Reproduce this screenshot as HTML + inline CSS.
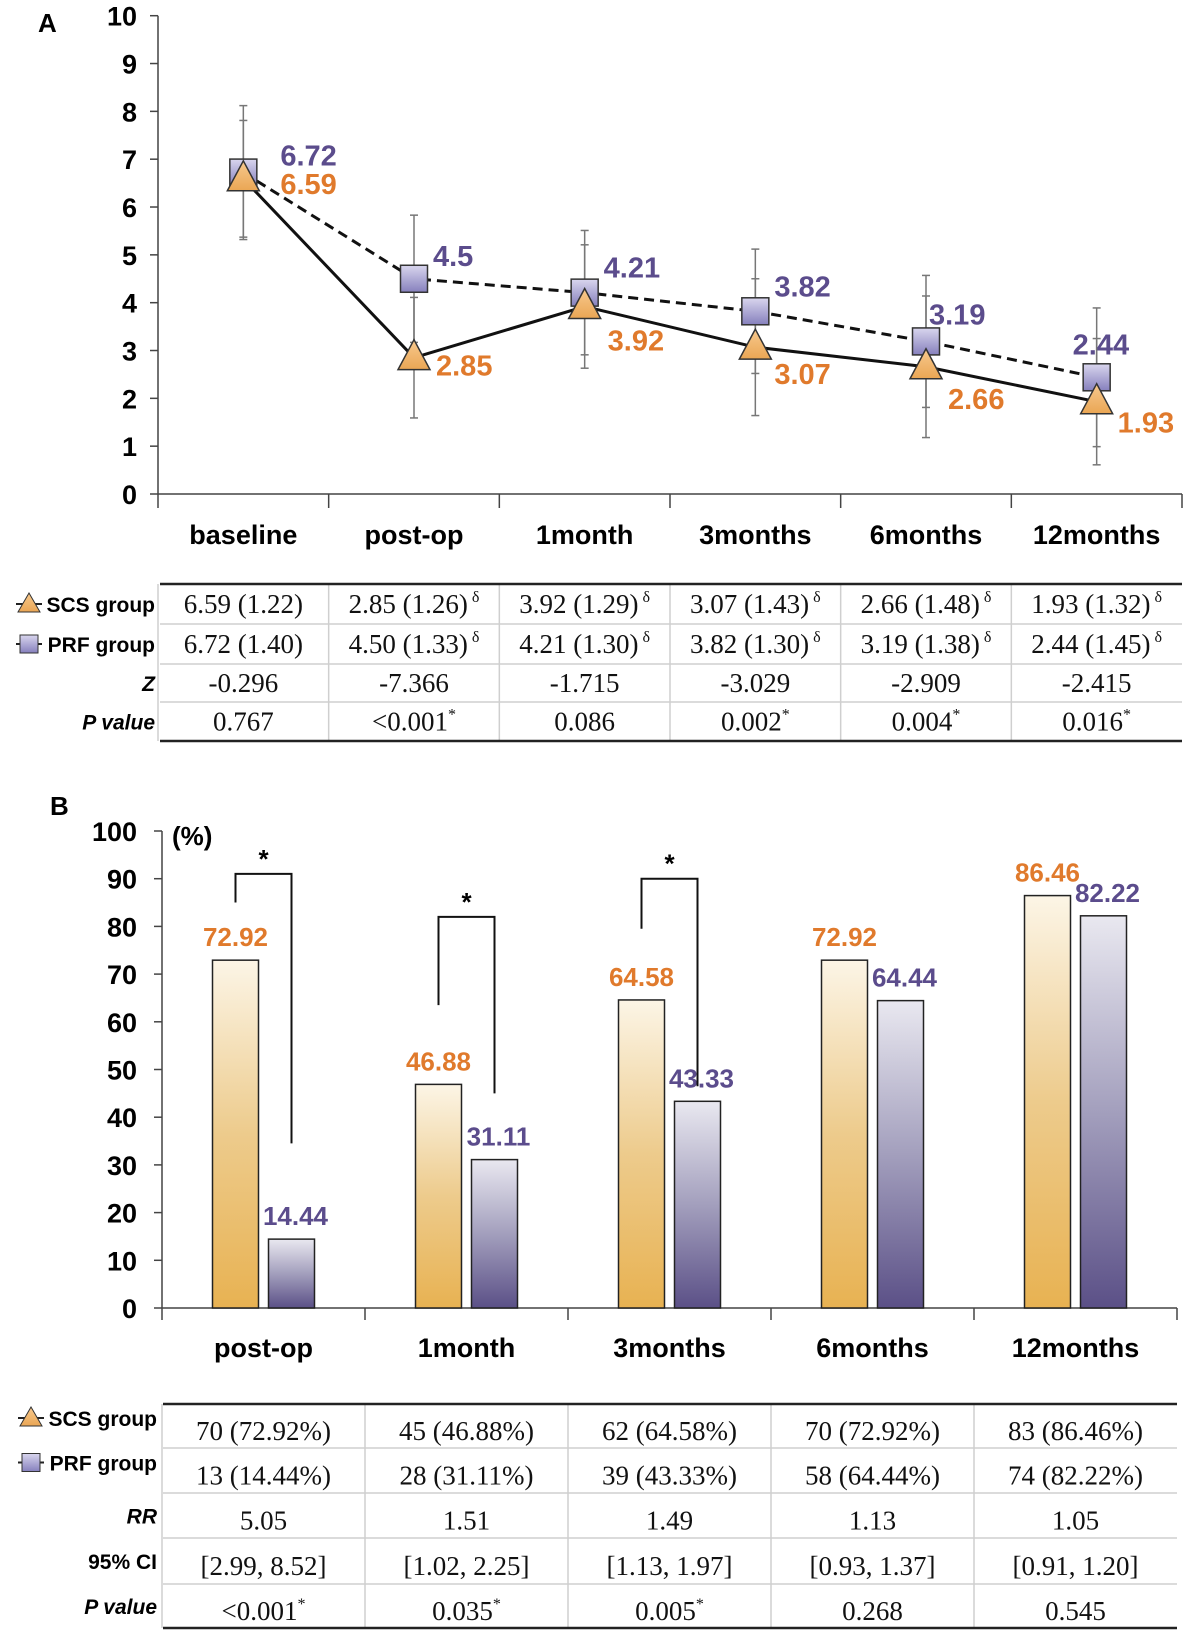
<!DOCTYPE html>
<html><head><meta charset="utf-8"><style>
html,body{margin:0;padding:0;background:#fff;}
svg{display:block;}
</style></head><body>
<svg id="fig" width="1185" height="1637" viewBox="0 0 1185 1637" xmlns="http://www.w3.org/2000/svg">
<defs>
<linearGradient id="gScs" x1="0" y1="0" x2="0" y2="1"><stop offset="0" stop-color="#fcf5e6"/><stop offset="0.5" stop-color="#edcb8c"/><stop offset="1" stop-color="#e8b252"/></linearGradient>
<linearGradient id="gPrf" x1="0" y1="0" x2="0" y2="1"><stop offset="0" stop-color="#e9e8f0"/><stop offset="0.5" stop-color="#a39fbd"/><stop offset="1" stop-color="#5b5087"/></linearGradient>
<linearGradient id="gSq" x1="0" y1="0" x2="0" y2="1"><stop offset="0" stop-color="#d9d6ee"/><stop offset="1" stop-color="#8680bd"/></linearGradient>
<linearGradient id="gTri" x1="0" y1="0" x2="0" y2="1"><stop offset="0" stop-color="#f7c98e"/><stop offset="1" stop-color="#eaa654"/></linearGradient>
</defs>
<g id="A"></g>
<g id="TA"></g>
<g id="B"></g>
<g id="TB"></g>
</svg>
<script>
// ---- Panel A data
const catsA = ["baseline","post-op","1month","3months","6months","12months"];
const scsMean = [6.59,2.85,3.92,3.07,2.66,1.93];
const scsSD = [1.22,1.26,1.29,1.43,1.48,1.32];
const prfMean = [6.72,4.50,4.21,3.82,3.19,2.44];
const prfSD = [1.40,1.33,1.30,1.30,1.38,1.45];
const ticksA = [0,1,2,3,4,5,6,7,8,9,10];
const zVals = ["-0.296","-7.366","-1.715","-3.029","-2.909","-2.415"];
const pValsA = ["0.767","<0.001*","0.086","0.002*","0.004*","0.016*"];
// label placement (layout only)
const prfLblDx=[37,19,19,19,3,-24], prfLblDy=[-18,-24,-26,-26,-28,-34];
const scsLblDx=[37,22,23,19,22,21], scsLblDy=[4,7,33,26,31,20];
// ---- Panel B data
const catsB = ["post-op","1month","3months","6months","12months"];
const scsPct = [72.92,46.88,64.58,72.92,86.46];
const prfPct = [14.44,31.11,43.33,64.44,82.22];
const ticksB = [0,10,20,30,40,50,60,70,80,90,100];
const scsN = ["70 (72.92%)","45 (46.88%)","62 (64.58%)","70 (72.92%)","83 (86.46%)"];
const prfN = ["13 (14.44%)","28 (31.11%)","39 (43.33%)","58 (64.44%)","74 (82.22%)"];
const rrVals = ["5.05","1.51","1.49","1.13","1.05"];
const ciVals = ["[2.99, 8.52]","[1.02, 2.25]","[1.13, 1.97]","[0.93, 1.37]","[0.91, 1.20]"];
const pValsB = ["<0.001*","0.035*","0.005*","0.268","0.545"];
const sigIdx = [0,1,2];
const sigTop = [91,82,90];
const sigLeftBot = [85,63.5,79.5];
const sigRightBot = [34.5,45,46.5];

const NS="http://www.w3.org/2000/svg";
const ORANGE="#e07a2c", PURPLE="#5b4c8c", SANS='"Liberation Sans", "DejaVu Sans", sans-serif', SERIF='"Liberation Serif", serif';
function mk(parent,tag,attrs,text){const e=document.createElementNS(NS,tag);for(const k in attrs)e.setAttribute(k,attrs[k]);if(text!==undefined)e.textContent=text;parent.appendChild(e);return e;}

// ===== Panel A
const gA=document.getElementById('A');
const axA={x0:158,x1:1182,yTop:15.7,y0:494};
const yA=v=>axA.y0-(axA.y0-axA.yTop)*v/10;
const bandA=(axA.x1-axA.x0)/catsA.length;
const xA=i=>axA.x0+bandA*(i+0.5);
let t=mk(gA,'text',{x:38,y:32,'font-family':SANS,'font-weight':'bold','font-size':26},'A');


let ln=mk(gA,'line',{x1:axA.x0,y1:axA.yTop,x2:axA.x0,y2:axA.y0,stroke:'#444','stroke-width':1.5});


ln=mk(gA,'line',{x1:axA.x0,y1:axA.y0,x2:axA.x1,y2:axA.y0,stroke:'#444','stroke-width':1.5});


ticksA.forEach(v=>{
  mk(gA,'line',{x1:axA.x0-8,y1:yA(v),x2:axA.x0,y2:yA(v),stroke:'#444','stroke-width':1.5});
  const e=mk(gA,'text',{x:137,y:yA(v)+10,'text-anchor':'end','font-family':SANS,'font-weight':'bold','font-size':27},String(v));
  
  
});
for(let i=0;i<=catsA.length;i++){const x=axA.x0+bandA*i;mk(gA,'line',{x1:x,y1:axA.y0,x2:x,y2:axA.y0+14,stroke:'#444','stroke-width':1.5});}
catsA.forEach((c,i)=>{
  const e=mk(gA,'text',{x:xA(i),y:544,'text-anchor':'middle','font-family':SANS,'font-weight':'bold','font-size':27},c);
  
  
});
function errBar(i,m,s){const x=xA(i);mk(gA,'line',{x1:x,y1:yA(m-s),x2:x,y2:yA(m+s),stroke:'#777','stroke-width':1.5});
 [m-s,m+s].forEach(v=>mk(gA,'line',{x1:x-4,y1:yA(v),x2:x+4,y2:yA(v),stroke:'#777','stroke-width':1.5}));}
catsA.forEach((c,i)=>{errBar(i,prfMean[i],prfSD[i]);errBar(i,scsMean[i],scsSD[i]);});
const pPrf=mk(gA,'polyline',{points:prfMean.map((v,i)=>xA(i)+','+yA(v)).join(' '),fill:'none',stroke:'#111','stroke-width':3,'stroke-dasharray':'10,6'});


const pScs=mk(gA,'polyline',{points:scsMean.map((v,i)=>xA(i)+','+yA(v)).join(' '),fill:'none',stroke:'#111','stroke-width':3});


prfMean.forEach((v,i)=>{const x=xA(i),y=yA(v);
  const r=mk(gA,'rect',{x:x-13.5,y:y-13.5,width:27,height:27,fill:'url(#gSq)',stroke:'#333','stroke-width':1.5});
  
  
});
scsMean.forEach((v,i)=>{const x=xA(i),y=yA(v);
  const p=mk(gA,'polygon',{points:`${x},${y-18} ${x-16},${y+12} ${x+16},${y+12}`,fill:'url(#gTri)',stroke:'#333','stroke-width':1.5});
  
  
});
prfMean.forEach((v,i)=>{
  const e=mk(gA,'text',{x:xA(i)+prfLblDx[i],y:yA(v)+prfLblDy[i]+11,'font-family':SANS,'font-weight':'bold','font-size':29,fill:PURPLE},String(v));
  
  
});
scsMean.forEach((v,i)=>{
  const e=mk(gA,'text',{x:xA(i)+scsLblDx[i],y:yA(v)+scsLblDy[i]+11,'font-family':SANS,'font-weight':'bold','font-size':29,fill:ORANGE},String(v));
  
  
});

// ===== tables
function legendIcon(g,x,y,type){
  mk(g,'line',{x1:x-13,y1:y,x2:x+13,y2:y,stroke:'#222','stroke-width':2});
  if(type==='tri')mk(g,'polygon',{points:`${x},${y-11} ${x-11},${y+8} ${x+11},${y+8}`,fill:'url(#gTri)',stroke:'#333','stroke-width':1});
  else mk(g,'rect',{x:x-9,y:y-9,width:18,height:18,fill:'url(#gSq)',stroke:'#333','stroke-width':1});
}
function cellText(g,x,y,s,name){
  const star=s.endsWith('*'), delta=s.endsWith('δ');
  const base=star?s.slice(0,-1):(delta?s.slice(0,-2):s);
  const e=mk(g,'text',{x:x,y:y,'text-anchor':'middle','font-family':SERIF,'font-size':27,fill:'#111'});
  
  
  const tt=document.createElementNS(NS,'tspan');tt.textContent=base;e.appendChild(tt);
  if(star||delta){const sp=document.createElementNS(NS,'tspan');sp.setAttribute('font-size',16);sp.setAttribute('dy',-11);sp.textContent=star?'*':' δ';e.appendChild(sp);}
}
function table(g,{left,right,colX,rowB,labels,rows,labelRight,textDy,labY}){
  rowB.slice(1,-1).forEach(y=>mk(g,'line',{x1:left,y1:y,x2:right,y2:y,stroke:'#cfcfcf','stroke-width':1.5}));
  colX.forEach(x=>mk(g,'line',{x1:x,y1:rowB[0],x2:x,y2:rowB[rowB.length-1],stroke:'#cfcfcf','stroke-width':1.5}));
  mk(g,'line',{x1:left,y1:rowB[0],x2:right,y2:rowB[0],stroke:'#222','stroke-width':2.5});
  mk(g,'line',{x1:left,y1:rowB[rowB.length-1],x2:right,y2:rowB[rowB.length-1],stroke:'#222','stroke-width':2.5});
  labels.forEach((lb,r)=>{
    const ym=(rowB[r]+rowB[r+1])/2+(labY?labY[r]:0);
    const e=mk(g,'text',{x:labelRight,y:ym+8,'text-anchor':'end','font-family':SANS,'font-weight':'bold','font-size':21,'font-style':lb.it?'italic':'normal'},lb.t);
    
    
    if(lb.icon){legendIcon(g,labelRight-126,ym,lb.icon);}
  });
  rows.forEach((arr,r)=>{const ym=(rowB[r]+rowB[r+1])/2;
    arr.forEach((s,c)=>cellText(g,(colX[c]+(colX[c+1]||right))/2,ym+9+textDy,s,'table-cell'));});
}
const gTA=document.getElementById('TA');
const colA=catsA.map((c,i)=>axA.x0+bandA*i);
table(gTA,{left:160,right:1182,colX:colA,rowB:[584,624,664,702,741],labelRight:155,textDy:0,
  labels:[{t:'SCS group',icon:'tri'},{t:'PRF group',icon:'sq'},{t:'Z',it:true},{t:'P value',it:true}],
  rows:[scsMean.map((v,i)=>v.toFixed(2)+' ('+scsSD[i].toFixed(2)+')'+(i>0?' δ':'')),
        prfMean.map((v,i)=>v.toFixed(2)+' ('+prfSD[i].toFixed(2)+')'+(i>0?' δ':'')),
        zVals,pValsA]});

// ===== Panel B
const gB=document.getElementById('B');
const axB={x0:162,x1:1177,yTop:831,y0:1308};
const yB=v=>axB.y0-(axB.y0-axB.yTop)*v/100;
const bandB=(axB.x1-axB.x0)/catsB.length;
const xB=i=>axB.x0+bandB*(i+0.5);
t=mk(gB,'text',{x:50,y:815,'font-family':SANS,'font-weight':'bold','font-size':26},'B');


t=mk(gB,'text',{x:172,y:845,'font-family':SANS,'font-weight':'bold','font-size':26},'(%)');


ln=mk(gB,'line',{x1:axB.x0,y1:axB.yTop,x2:axB.x0,y2:axB.y0,stroke:'#444','stroke-width':1.5});


ln=mk(gB,'line',{x1:axB.x0,y1:axB.y0,x2:axB.x1,y2:axB.y0,stroke:'#444','stroke-width':1.5});


ticksB.forEach(v=>{
  mk(gB,'line',{x1:axB.x0-8,y1:yB(v),x2:axB.x0,y2:yB(v),stroke:'#444','stroke-width':1.5});
  const e=mk(gB,'text',{x:137,y:yB(v)+10,'text-anchor':'end','font-family':SANS,'font-weight':'bold','font-size':27},String(v));
  
  
});
for(let i=0;i<=catsB.length;i++){const x=axB.x0+bandB*i;mk(gB,'line',{x1:x,y1:axB.y0,x2:x,y2:axB.y0+12,stroke:'#444','stroke-width':1.5});}
catsB.forEach((c,i)=>{
  const e=mk(gB,'text',{x:xB(i),y:1357,'text-anchor':'middle','font-family':SANS,'font-weight':'bold','font-size':27},c);
  
  
});
const bw=46;
catsB.forEach((c,i)=>{
  const xs=xB(i)-5-bw, xp=xB(i)+5;
  const r1=mk(gB,'rect',{x:xs,y:yB(scsPct[i]),width:bw,height:axB.y0-yB(scsPct[i]),fill:'url(#gScs)',stroke:'#222','stroke-width':1.5});
  
  
  const r2=mk(gB,'rect',{x:xp,y:yB(prfPct[i]),width:bw,height:axB.y0-yB(prfPct[i]),fill:'url(#gPrf)',stroke:'#222','stroke-width':1.5});
  
  
  const l1=mk(gB,'text',{x:xs+bw/2,y:yB(scsPct[i])-14,'text-anchor':'middle','font-family':SANS,'font-weight':'bold','font-size':26,fill:ORANGE},scsPct[i].toFixed(2));
  
  
  const l2=mk(gB,'text',{x:xp+bw/2+4,y:yB(prfPct[i])-14,'text-anchor':'middle','font-family':SANS,'font-weight':'bold','font-size':26,fill:PURPLE},prfPct[i].toFixed(2));
  
  
});
sigIdx.forEach((ci,k)=>{
  const xl=xB(ci)-5-bw/2, xr=xB(ci)+5+bw/2;
  const p=mk(gB,'polyline',{points:`${xl},${yB(sigLeftBot[k])} ${xl},${yB(sigTop[k])} ${xr},${yB(sigTop[k])} ${xr},${yB(sigRightBot[k])}`,fill:'none',stroke:'#111','stroke-width':2});
  
  
  const s=mk(gB,'text',{x:(xl+xr)/2,y:yB(sigTop[k])-6,'text-anchor':'middle','font-family':SANS,'font-weight':'bold','font-size':26},'*');
  
  
});
const gTB=document.getElementById('TB');
const colB=catsB.map((c,i)=>axB.x0+bandB*i);
table(gTB,{left:163,right:1177,colX:colB,rowB:[1404,1448,1493,1538,1584,1628],labelRight:157,textDy:5,labY:[-8,-8,0,0,0],
  labels:[{t:'SCS group',icon:'tri'},{t:'PRF group',icon:'sq'},{t:'RR',it:true},{t:'95% CI'},{t:'P value',it:true}],
  rows:[scsN,prfN,rrVals,ciVals,pValsB]});
</script>
</body></html>
